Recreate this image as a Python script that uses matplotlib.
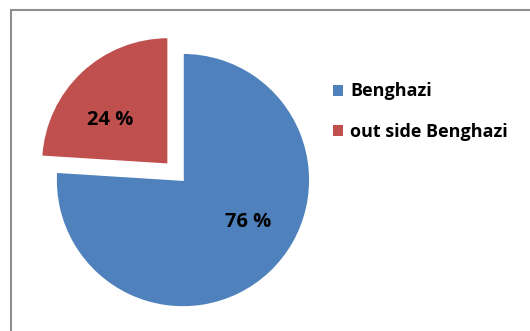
import matplotlib.pyplot as plt
from matplotlib.patches import Rectangle, Patch

labels = ["Benghazi", "out side Benghazi"]
shares = [76, 24]
colors = ["#4F81BD", "#C0504D"]
explode = [0, 0.17]

plt.rcParams['font.family'] = ['Open Sans', 'DejaVu Sans']

fig = plt.figure(figsize=(5.3, 3.31), dpi=100)

# chart border (runs off the right and bottom edge like the screenshot)
fig.patches.append(Rectangle((11 / 530, -0.2), 1.2, 1.2 - 10 / 331,
                             transform=fig.transFigure, fill=False,
                             edgecolor="#8f8f8f", linewidth=1.5))

ax = fig.add_axes([0.1057, 0.0725, 0.479, 0.767])
wedges, _ = ax.pie(shares, colors=colors, explode=explode, startangle=90,
                   counterclock=False,
                   wedgeprops=dict(edgecolor="white", linewidth=1.2))
for w in wedges:
    w.set_clip_on(False)
ax.set_xlim(-1, 1)
ax.set_ylim(-1, 1)
ax.set_aspect('auto')

# percentage labels
label_pos = [(0.51, -0.33), (-0.575, 0.475)]
for v, (x, y) in zip(shares, label_pos):
    ax.text(x, y, f"{v} %", ha="center", va="center", fontsize=14.5,
            fontweight="bold", color="black")

handles = [Patch(facecolor=c, edgecolor="none") for c in colors]
fig.legend(handles, labels, loc="upper left", bbox_to_anchor=(0.598, 0.80),
           frameon=False, handlelength=0.55, handleheight=0.55,
           handletextpad=0.4, labelspacing=1.25,
           prop=dict(weight="bold", size=13))

fig.savefig("out.png", dpi=100)
